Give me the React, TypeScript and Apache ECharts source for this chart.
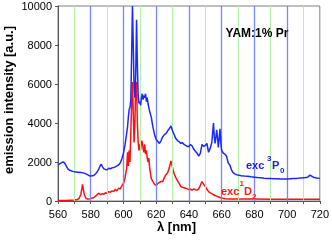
import React, { useEffect, useRef } from "react";
import * as echarts from "echarts";

const xTicks = [560, 580, 600, 620, 640, 660, 680, 700, 720];
const yTicks = [0, 2000, 4000, 6000, 8000, 10000];
const blueGridLines = [580, 600, 620, 640, 660, 680, 700];
const greenGridLines = [570, 590, 610, 630, 650, 670, 690, 710];

// exc 3P0 (blue)
const lambda3P0 = [
  560, 561, 562, 563, 564, 565, 566, 567, 568, 569, 570, 572, 574, 576, 578, 579, 580, 581, 582, 583,
  584, 585, 586, 586.5, 587, 588, 589, 590, 591, 592, 593, 594, 595, 596, 597, 598, 599, 600, 601, 602,
  602.5, 603, 603.5, 604, 604.5, 605, 605.5, 606, 606.5, 607, 607.5, 608, 608.5, 609, 609.5, 610, 610.5,
  611, 611.5, 612, 612.5, 613, 613.5, 614, 614.5, 615, 615.5, 616, 617, 618, 619, 620, 621, 622, 623,
  624, 625, 626, 627, 628, 629, 630, 631, 632, 633, 634, 635, 636, 637, 638, 639, 640, 641, 642, 643,
  644, 645, 646, 647, 648, 649, 650, 651, 652, 653, 654, 654.5, 655, 655.5, 656, 657, 658, 659, 659.5,
  660, 661, 662, 663, 664, 665, 666, 667, 668, 669, 670, 672, 674, 676, 678, 680, 682, 684, 686, 688,
  690, 692, 694, 696, 698, 700, 702, 704, 706, 708, 710, 712, 713, 714, 715, 716, 718, 720,
];
const intensity3P0 = [
  1850, 1900, 1950, 2000, 1950, 1800, 1650, 1580, 1550, 1520, 1500, 1480, 1460, 1430, 1350, 1300, 1280, 1290, 1320, 1400,
  1500, 1650, 1850, 1880, 1780, 1650, 1620, 1600, 1680, 1650, 1700, 1720, 1750, 1800, 1850, 1950, 2150, 2450, 2900, 3500,
  3800, 4300, 4700, 4800, 5200, 7500, 10000, 8000, 5800, 5300, 6500, 9300, 7000, 5400, 5000, 5100, 4900,
  5300, 5500, 5200, 5400, 5300, 5500, 5100, 5300, 5000, 4800, 4600, 4300, 3800, 3400, 3150, 3050, 2950, 3100,
  3300, 3400, 3450, 3600, 3700, 3850, 3600, 3400, 3200, 3100, 3050, 2950, 3000, 2900, 2850, 2800, 2800, 2900, 2820, 2650,
  2550, 2450, 2300, 2450, 2900, 2800, 2850, 2950, 2500, 2700, 3000, 3500, 4000, 3300, 2950, 3650, 2750, 3700, 3000,
  2600, 2450, 2400, 2300, 1950, 1850, 1600, 1450, 1390, 1350, 1330, 1300, 1280, 1270, 1240, 1220, 1200, 1190, 1170, 1160,
  1150, 1140, 1140, 1130, 1130, 1130, 1140, 1150, 1160, 1180, 1190, 1200, 1250, 1330, 1280, 1220, 1180, 1160,
];

// exc 1D2 (red)
const lambda1D2 = [
  560, 565, 570, 572, 573, 574, 575, 575.5, 576, 577, 578, 580, 582, 583, 584, 585, 586, 587, 588, 589,
  590, 591, 592, 593, 594, 595, 596, 597, 598, 599, 600, 601, 601.5, 602, 602.5, 603, 603.5, 604, 604.5,
  605, 605.5, 606, 606.5, 607, 607.5, 608, 608.5, 609, 609.5, 610, 610.5, 611, 611.5, 612, 612.5, 613,
  613.5, 614, 614.5, 615, 615.5, 616, 617, 618, 619, 620, 621, 622, 623, 624, 625, 626, 627, 628, 629,
  629.5, 630, 631, 632, 633, 634, 635, 636, 637, 638, 639, 640, 641, 642, 643, 644, 645, 646, 647, 648,
  649, 650, 651, 652, 653, 654, 655, 656, 657, 658, 659, 660, 662, 665, 670, 680, 690, 700, 710, 720,
];
const intensity1D2 = [
  20, 30, 50, 80, 150, 350, 850, 600, 350, 150, 100, 120, 180, 250, 330, 400, 320, 380, 350, 420,
  400, 480, 450, 520, 480, 600, 520, 650, 620, 780, 900, 1200, 1450, 1700, 2500, 1800, 2600, 2000, 3500,
  5000, 6100, 4500, 3000, 4000, 6000, 6100, 4000, 3000, 2600, 2900, 2600, 3100, 3000, 2700, 2500, 2900,
  2400, 2600, 2200, 2000, 2200, 1700, 1150, 1000, 850, 800, 900, 950, 1000, 1000, 1200, 1350, 1450, 1700, 2050,
  1900, 1700, 1400, 1200, 1050, 900, 750, 700, 680, 650, 620, 580, 600, 560, 620, 580, 560, 620, 800, 1000,
  850, 750, 600, 480, 420, 380, 320, 280, 250, 220, 180, 150, 120, 100, 100, 100, 90, 90, 90, 90,
];

const FONT = "'Liberation Sans', Arial, sans-serif";

export default function App() {
  const ref = useRef<HTMLDivElement>(null);
  useEffect(() => {
    if (!ref.current) return;
    const chart = echarts.init(ref.current, undefined, { renderer: "svg" });
    const txt = (
      text: string,
      x: number,
      y: number,
      size: number,
      color: string,
      extra: any = {}
    ) => ({
      type: "text",
      x,
      y,
      z: 10,
      silent: true,
      ...extra,
      style: {
        text,
        fill: color,
        fontSize: size,
        fontWeight: "bold",
        fontFamily: FONT,
        align: extra.align || "left",
        verticalAlign: "middle",
        textAlign: extra.align || "left",
        textVerticalAlign: "middle",
      },
    });
    const whiteRect = (x: number, y: number, w: number, h: number) => ({
      type: "rect",
      z: 2,
      silent: true,
      shape: { x, y, width: w, height: h },
      style: { fill: "#ffffff" },
    });
    chart.setOption({
      animation: false,
      grid: {
        left: 58,
        right: 10,
        top: 6,
        bottom: 39,
        show: true,
        borderColor: "#808080",
        borderWidth: 1,
        backgroundColor: "transparent",
      },
      xAxis: {
        type: "value",
        min: xTicks[0],
        max: xTicks[xTicks.length - 1],
        interval: 20,
        axisLine: { show: true, lineStyle: { color: "#555555", width: 1 } },
        axisTick: { show: true, length: 3, lineStyle: { color: "#555555" } },
        minorTick: { show: true, splitNumber: 2, length: 3, lineStyle: { color: "#555555" } },
        splitLine: { show: false },
        axisLabel: {
          color: "#000",
          fontSize: 11,
          fontFamily: FONT,
          margin: 7,
          formatter: (v: number) => String(v),
        },
      },
      yAxis: {
        type: "value",
        min: yTicks[0],
        max: yTicks[yTicks.length - 1],
        interval: 2000,
        axisLine: { show: true, lineStyle: { color: "#555555", width: 1 } },
        axisTick: { show: true, length: 3, lineStyle: { color: "#555555" } },
        splitLine: { show: false },
        axisLabel: {
          color: "#000",
          fontSize: 11,
          fontFamily: FONT,
          margin: 6,
          formatter: (v: number) => String(v),
        },
      },
      graphic: [
        whiteRect(219, 17, 76, 25),
        whiteRect(244, 153, 46, 20),
        whiteRect(219, 174, 38, 24),
        txt("YAM:1% Pr", 257, 32.5, 12, "#000000", { align: "center" }),
        txt("exc", 246, 164.5, 11, "#1a1aff"),
        txt("3", 267, 158.5, 8, "#1a1aff"),
        txt("P", 272, 164.5, 11, "#1a1aff"),
        txt("0", 280, 170, 8, "#1a1aff"),
        txt("exc", 221, 190.5, 11, "#ff1a1a"),
        txt("1", 239.5, 183.5, 8, "#ff1a1a"),
        txt("D", 244, 190.5, 11, "#ff1a1a"),
        txt("2", 252, 196, 8, "#ff1a1a"),
        txt("λ [nm]", 157, 226, 13, "#000000"),
        txt("emission intensity [a.u.]", 8, 100, 13, "#000000", {
          align: "center",
          rotation: Math.PI / 2,
        }),
      ],
      series: [
        {
          type: "line",
          z: 1,
          data: [],
          silent: true,
          markLine: {
            silent: true,
            symbol: ["none", "none"],
            label: { show: false },
            emphasis: { disabled: true },
            lineStyle: { color: "#7585ff", width: 1.3, type: "solid" },
            data: blueGridLines.map((v) => ({ xAxis: v })),
          },
        },
        {
          type: "line",
          z: 3,
          data: [],
          silent: true,
          markLine: {
            silent: true,
            symbol: ["none", "none"],
            label: { show: false },
            emphasis: { disabled: true },
            lineStyle: { color: "#b4f0a8", width: 1, type: "solid" },
            data: greenGridLines.map((v) => ({ xAxis: v })),
          },
        },
        {
          type: "line",
          z: 4,
          showSymbol: false,
          symbol: "none",
          silent: true,
          lineStyle: { color: "#ff1010", width: 1.5 },
          data: lambda1D2.map((l, i) => [l, intensity1D2[i]]),
        },
        {
          type: "line",
          z: 5,
          showSymbol: false,
          symbol: "none",
          silent: true,
          lineStyle: { color: "#1a2aff", width: 1.5 },
          data: lambda3P0.map((l, i) => [l, intensity3P0[i]]),
        },
      ],
    });
    return () => chart.dispose();
  }, []);
  return (
    <div
      ref={ref}
      style={{ position: "fixed", left: 0, top: 0, width: 332, height: 240 }}
    />
  );
}
